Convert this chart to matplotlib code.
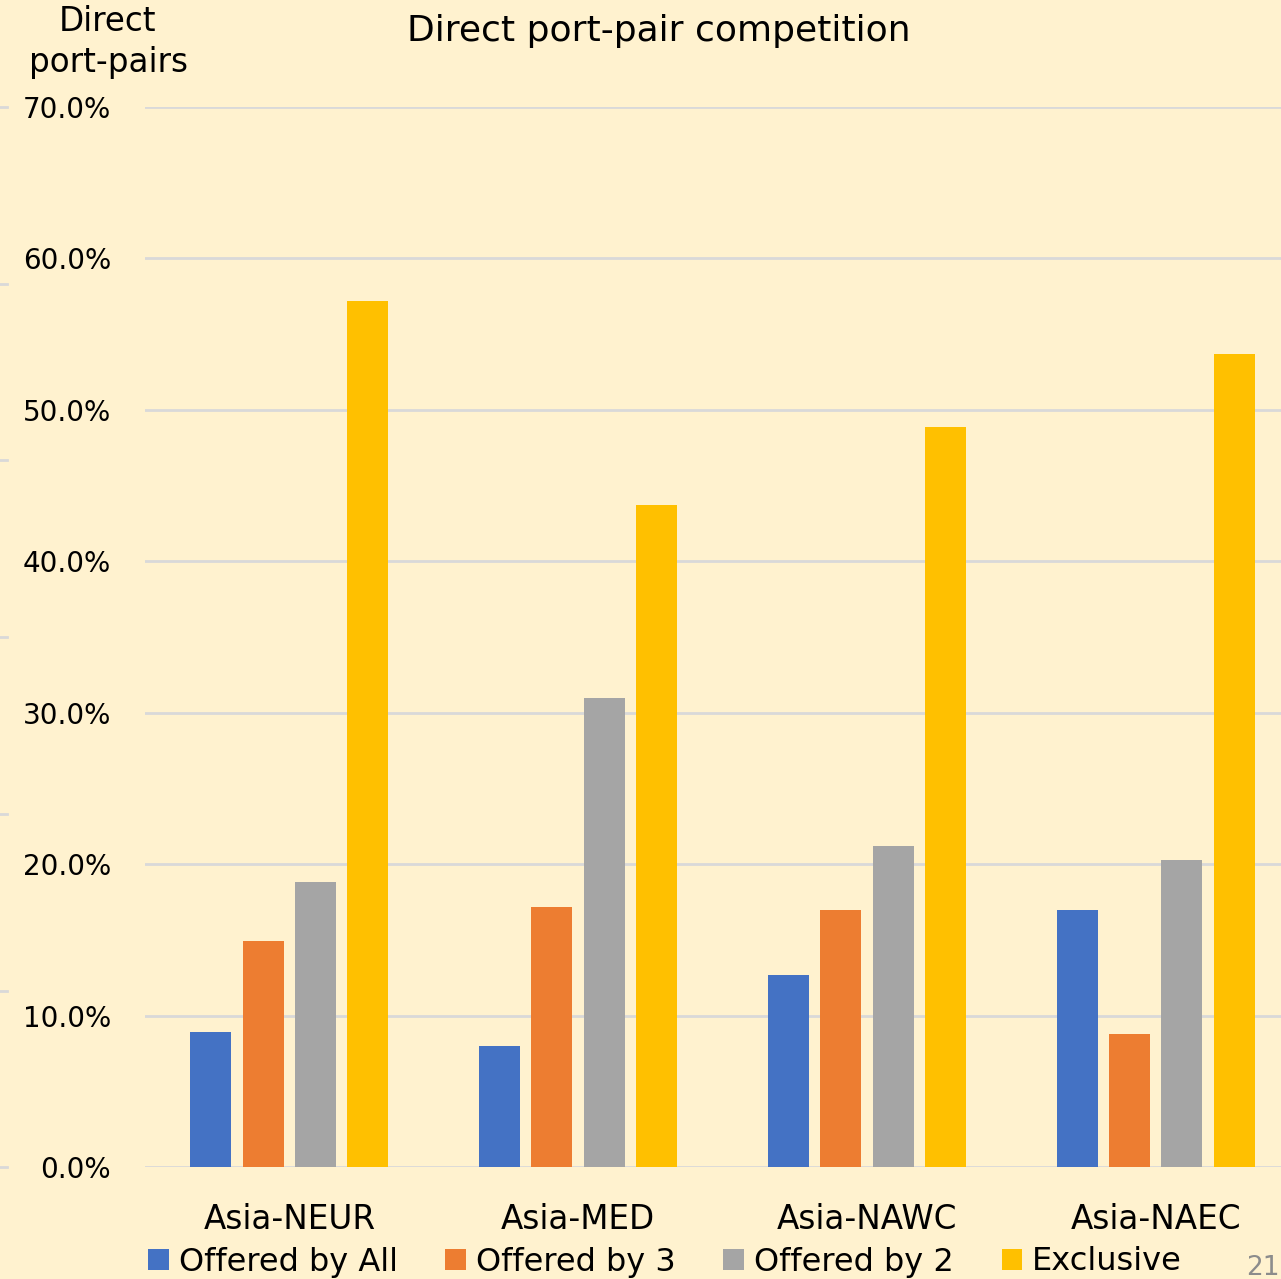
"""
Direct port-pair competition by trade lane.
"""

import matplotlib
matplotlib.use("Agg")
import matplotlib.pyplot as plt
from matplotlib.patches import Patch
from matplotlib.lines import Line2D
import numpy as np

# Data (percent of direct port-pairs)
lanes = ["Asia-NEUR", "Asia-MED", "Asia-NAWC", "Asia-NAEC"]
series = ["Offered by All", "Offered by 3", "Offered by 2", "Exclusive"]
offered_all = [8.9, 8.0, 12.7, 17.0]
offered_3 = [14.9, 17.2, 17.0, 8.8]
offered_2 = [18.8, 31.0, 21.2, 20.3]
exclusive = [57.2, 43.7, 48.9, 53.7]
yticks = [0, 10, 20, 30, 40, 50, 60, 70]

colors = ["#4472C4", "#ED7D31", "#A5A5A5", "#FFC000"]
bg = "#FFF2CF"
plt.rcParams["font.family"] = ["DejaVu Sans"]

W, H = 1281, 1279
fig = plt.figure(figsize=(W / 100, H / 100), dpi=100, facecolor=bg)
ax = fig.add_axes([145 / W, 112 / H, 1155 / W, 1060 / H], facecolor=bg)

x = np.arange(len(lanes))
width = 0.142
step = 0.181
for i, (vals, c) in enumerate(zip([offered_all, offered_3, offered_2, exclusive], colors)):
    ax.bar(x + (i - 1.5) * step, vals, width, color=c, zorder=3, label=series[i])

ax.set_xlim(-0.5, len(lanes) - 0.5)
ax.set_ylim(0, 70)
ax.set_yticks(yticks)
ax.set_yticklabels([f"{v:.1f}%" for v in yticks], fontsize=20)
ax.set_xticks(x)
ax.set_xticklabels(lanes, fontsize=23.5)
ax.tick_params(axis="y", length=0, pad=24.5)
ax.tick_params(axis="x", length=0, pad=26)
ax.grid(axis="y", color="#D9D9D9", linewidth=2, zorder=0)
for s in ax.spines.values():
    s.set_visible(False)

fig.text(659 / W, 1 - 31 / H, "Direct port-pair competition", fontsize=26,
         ha="center", va="center")
fig.text(108 / W, 1 - 42 / H, "Direct\nport-pairs", fontsize=23.5,
         ha="center", va="center", linespacing=1.3)
fig.text(1263 / W, 1 - 1268 / H, "21", fontsize=19, color="#8C8C8C",
         ha="center", va="center")

# faint marks on the left edge of the slide
for yy in [107, 284, 460, 637, 814, 991, 1167]:
    fig.add_artist(Line2D([0, 7 / W], [1 - yy / H] * 2, color="#D9D9D9", lw=2))

handles = [Patch(facecolor=c, edgecolor="none") for c in colors]
fig.legend(handles, series, loc="center", bbox_to_anchor=(665 / W, 1 - 1262 / H),
           ncol=4, frameon=False, fontsize=23, handlelength=0.65, handleheight=0.65,
           handletextpad=0.3, columnspacing=1.5, borderpad=0)

fig.savefig("out.png", dpi=100, facecolor=bg)
